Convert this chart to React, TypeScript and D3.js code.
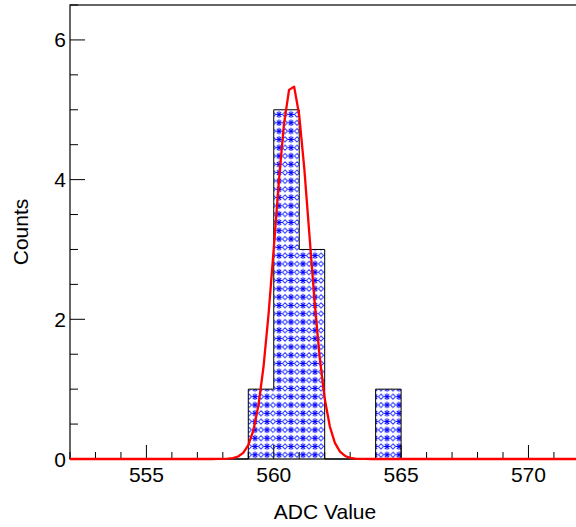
import React from "react";
import * as d3 from "d3";

const binLow = [559, 560, 561, 564];
const binCounts = [1, 5, 3, 1];
const binWidth = 1;
const xDomain = [552, 572];
const yDomain = [0, 6.5];
const xMajorTicks = [555, 560, 565, 570];
const yMajorTicks = [0, 2, 4, 6];
const fitConstant = 5.37;
const fitMean = 560.72;
const fitSigma = 0.67;
const xTitle = "ADC Value";
const yTitle = "Counts";

const W = 576;
const H = 527;
const L = 70;
const R = 579.4;
const T = 5;
const B = 459;

export default function App() {
  const x = d3.scaleLinear().domain(xDomain).range([L, R]);
  const y = d3.scaleLinear().domain(yDomain).range([B, T]);

  const xMinor = d3.range(xDomain[0], xDomain[1] + 0.001, 1);
  const yMinor = d3.range(0, yDomain[1] + 0.001, 0.5);

  const fitPts: [number, number][] = d3.range(0, 101).map((i) => {
    const xv = xDomain[0] + (i * (xDomain[1] - xDomain[0])) / 100;
    const v = fitConstant * Math.exp(-((xv - fitMean) ** 2) / (2 * fitSigma ** 2));
    return [xv, v];
  });
  const line = d3
    .line<[number, number]>()
    .x((d) => x(d[0]))
    .y((d) => y(d[1]));

  const allBins = d3.range(xDomain[0], xDomain[1], binWidth).map((lo) => {
    const idx = binLow.indexOf(lo);
    return { lo, c: idx >= 0 ? binCounts[idx] : 0 };
  });
  let outline = `M${x(xDomain[0])},${y(0)}`;
  allBins.forEach((b) => {
    outline += `L${x(b.lo)},${y(b.c)}L${x(b.lo + binWidth)},${y(b.c)}`;
  });
  outline += `L${x(xDomain[1])},${y(0)}`;

  const font = "'Liberation Sans', Arial, Helvetica, sans-serif";

  return (
    <svg
      width={W}
      height={H}
      style={{ position: "fixed", left: 0, top: 0, background: "#fff" }}
      fontFamily={font}
    >
      <defs>
        <pattern id="hatch" width="12" height="8.3" patternUnits="userSpaceOnUse" x={L + 2} y={B}>
          <rect width="12" height="8.3" fill="#ffffff" />
          <g stroke="#0000ff" strokeWidth="1" fill="none">
            <line x1="3" y1="0.8" x2="3" y2="7.4" />
            <line x1="0" y1="4.1" x2="6" y2="4.1" />
            <line x1="0.8" y1="1.7" x2="5.2" y2="6.5" />
            <line x1="0.8" y1="6.5" x2="5.2" y2="1.7" />
            <path d="M9,1.6 L11.6,4.1 L9,6.6 L6.4,4.1 Z" stroke="#3040ff" />
          </g>
        </pattern>
      </defs>
      <rect x={0} y={0} width={W} height={H} fill="#fff" />

      {binLow.map((lo, i) => (
        <rect
          key={lo}
          x={x(lo)}
          y={y(binCounts[i])}
          width={x(lo + binWidth) - x(lo)}
          height={y(0) - y(binCounts[i])}
          fill="url(#hatch)"
        />
      ))}
      <path d={outline} fill="none" stroke="#000" strokeWidth={1} />

      <rect x={L} y={T} width={R - L} height={B - T} fill="none" stroke="#000" strokeWidth={1.2} />

      {xMinor.map((v) => {
        const major = xMajorTicks.includes(v);
        return (
          <line
            key={"xm" + v}
            x1={x(v)}
            x2={x(v)}
            y1={B}
            y2={B - (major ? 14 : 7)}
            stroke="#000"
            strokeWidth={1}
          />
        );
      })}
      {xMajorTicks.map((v) => (
        <text key={"xl" + v} x={x(v)} y={482} fontSize={21} textAnchor="middle" fill="#000">
          {v}
        </text>
      ))}

      {yMinor.map((v) => {
        const major = yMajorTicks.includes(v);
        return (
          <line
            key={"ym" + v}
            x1={L}
            x2={L + (major ? 15 : 8)}
            y1={y(v)}
            y2={y(v)}
            stroke="#000"
            strokeWidth={1}
          />
        );
      })}
      {yMajorTicks.map((v) => (
        <text key={"yl" + v} x={66} y={y(v) + 7.5} fontSize={21} textAnchor="end" fill="#000">
          {v}
        </text>
      ))}

      <path d={line(fitPts) || ""} fill="none" stroke="#ff0000" strokeWidth={2.3} strokeLinejoin="round" />

      <text x={325} y={519} fontSize={21} textAnchor="middle" fill="#000">
        {xTitle}
      </text>
      <text
        transform={`translate(28,${(T + B) / 2}) rotate(-90)`}
        fontSize={21}
        textAnchor="middle"
        fill="#000"
      >
        {yTitle}
      </text>
    </svg>
  );
}
